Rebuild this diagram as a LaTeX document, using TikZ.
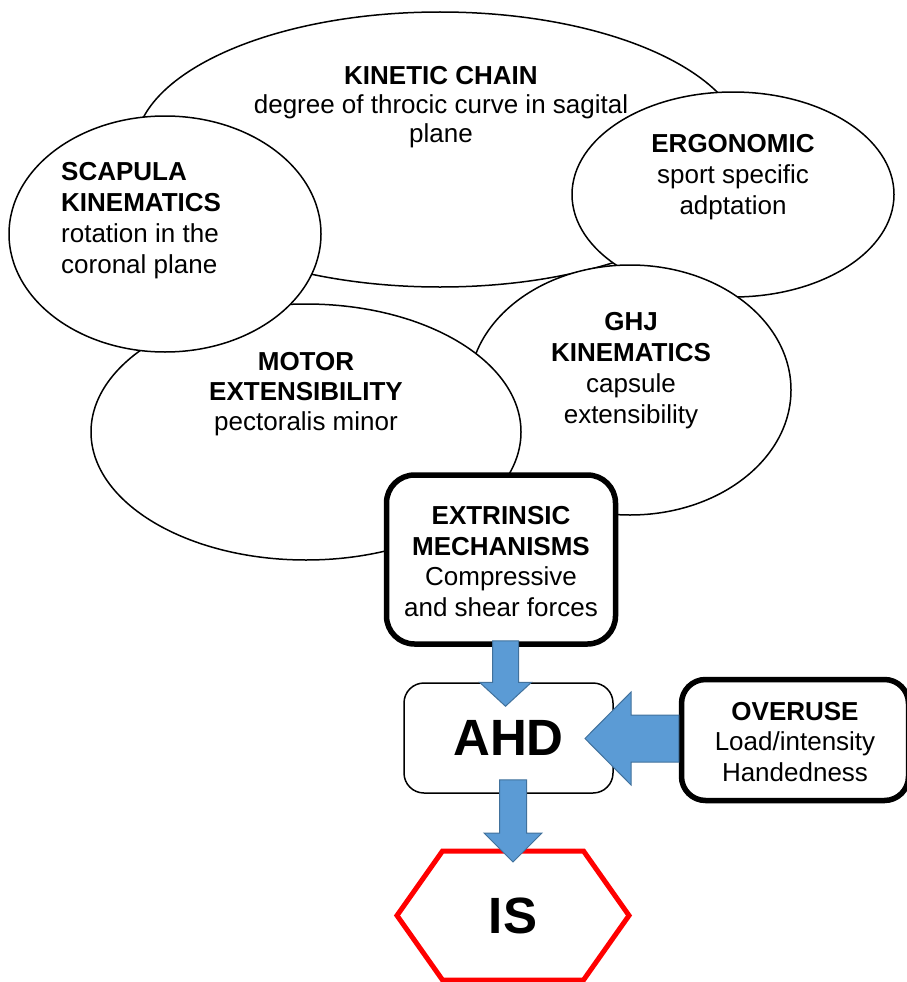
\documentclass[tikz,border=0pt]{standalone}
\usepackage{fontspec}
\setmainfont{Liberation Sans}
\usepackage{xcolor}
\usetikzlibrary{calc}
\definecolor{arrowblue}{HTML}{5B9BD5}
\definecolor{arrowedge}{HTML}{41719C}
\tikzset{
  bubble/.style={draw=black,line width=1.5pt,fill=white},
  bubbletext/.style={align=center,inner sep=0pt,font=\fontsize{26pt}{30pt}\selectfont},
  heavybox/.style={draw=black,line width=5.5pt,fill=white,rounded corners=28pt,align=center,inner sep=0pt,font=\fontsize{26pt}{30.5pt}\selectfont},
  lightbox/.style={draw=black,line width=1.5pt,fill=white,rounded corners=20pt,inner sep=0pt,font=\fontsize{51pt}{55pt}\selectfont\bfseries},
  blockarrow/.style={fill=arrowblue,draw=arrowedge,line width=1pt,line join=miter},
  hexline/.style={draw=red,line width=5pt,line join=miter}
}

\begin{document}
\begin{tikzpicture}[x=1pt,y=-1pt]
\useasboundingbox (0,0) rectangle (906,982);
% the ellipses, back to front
\draw[bubble] (440,149.5) ellipse [x radius=305pt,y radius=137.5pt];
\node[bubbletext,font=\fontsize{26pt}{29pt}\selectfont] (kintext) at (441,107) {\textbf{KINETIC CHAIN}\\degree of throcic curve in sagital\\plane};
\draw[bubble] (733,194.5) ellipse [x radius=161pt,y radius=102.5pt];
\node[bubbletext,font=\fontsize{26pt}{31pt}\selectfont] (ergotext) at (733,177) {\textbf{ERGONOMIC}\\sport specific\\adptation};
\draw[bubble] (630,390) ellipse [x radius=161pt,y radius=125pt];
\node[bubbletext,font=\fontsize{26pt}{31pt}\selectfont] (ghjtext) at (631,371) {\textbf{GHJ}\\\textbf{KINEMATICS}\\capsule\\extensibility};
\draw[bubble] (306,432) ellipse [x radius=215pt,y radius=128pt];
\node[bubbletext] (motortext) at (306,394) {\textbf{MOTOR}\\\textbf{EXTENSIBILITY}\\pectoralis minor};
\draw[bubble] (165,234) ellipse [x radius=156pt,y radius=118pt];
\node[bubbletext,font=\fontsize{26pt}{31pt}\selectfont,align=left,anchor=west] (scaptext) at (61,221) {\textbf{SCAPULA}\\\textbf{KINEMATICS}\\rotation in the\\coronal plane};

% boxes
\node[heavybox,minimum width=229pt,minimum height=169pt] (ext) at (501,559.5) {\rule{0pt}{22pt}\textbf{EXTRINSIC}\\\textbf{MECHANISMS}\\Compressive\\and shear forces};
\node[lightbox,minimum width=209pt,minimum height=110pt] (ahd) at (508.5,738) {AHD};
\node[heavybox,minimum width=227pt,minimum height=121pt,rounded corners=24pt] (over) at (795,740) {\rule{0pt}{22pt}\textbf{OVERUSE}\\Load/intensity\\Handedness};
\node[inner sep=0pt,font=\fontsize{51pt}{55pt}\selectfont\bfseries] (is) at (513,915.5) {IS};
\draw[hexline] ($(is)+(-116,0)$) -- ($(is)+(-70.5,-64.5)$) -- ($(is)+(70.5,-64.5)$) -- ($(is)+(116,0)$) -- ($(is)+(70.5,64.5)$) -- ($(is)+(-70.5,64.5)$) -- cycle;
\coordinate (istop) at ($(is)+(0,-64.5)$);

% block arrows
\coordinate (extout) at ($(ext.south)+(4.5,-6)$);
\coordinate (ahdin) at ($(ahd.north)+(-3,24)$);
\draw[blockarrow] ($(extout)+(-13,0)$) -- ($(extout)+(13,0)$) -- ($(ahdin)+(13,-24)$) -- ($(ahdin)+(26,-24)$) -- (ahdin) -- ($(ahdin)+(-26,-24)$) -- ($(ahdin)+(-13,-24)$) -- cycle;
\coordinate (ahdout) at ($(ahd.south)+(4.5,-14)$);
\coordinate (isin) at ($(istop)+(0,11)$);
\draw[blockarrow] ($(ahdout)+(-13.5,0)$) -- ($(ahdout)+(13.5,0)$) -- ($(isin)+(13.5,-29)$) -- ($(isin)+(29,-29)$) -- (isin) -- ($(isin)+(-29,-29)$) -- ($(isin)+(-13.5,-29)$) -- cycle;
\coordinate (overout) at ($(over.west)+(0,-1.5)$);
\coordinate (ahdside) at ($(ahd.east)+(-28.75,0.5)$);
\draw[blockarrow] ($(overout)+(0,-23.5)$) -- ($(ahdside)+(46,-23.5)$) -- ($(ahdside)+(46,-46.5)$) -- (ahdside) -- ($(ahdside)+(46,46.5)$) -- ($(ahdside)+(46,23.5)$) -- ($(overout)+(0,23.5)$) -- cycle;
\end{tikzpicture}
\end{document}
